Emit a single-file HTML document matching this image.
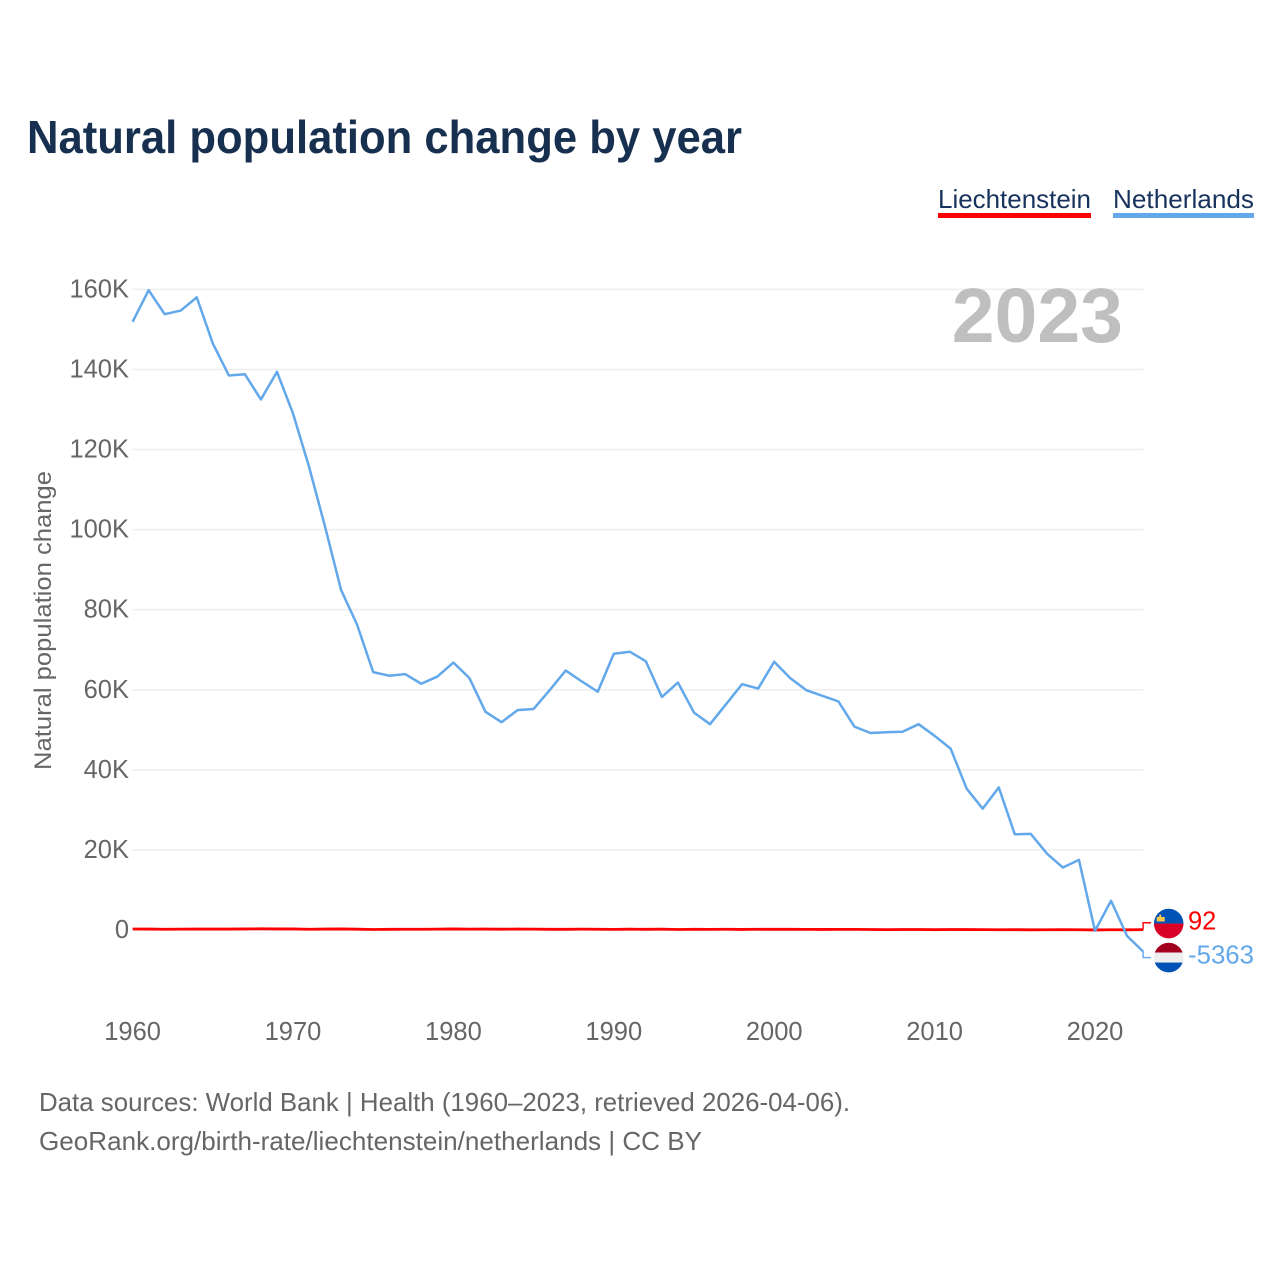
<!DOCTYPE html>
<html lang="en">
<head>
<meta charset="utf-8">
<title>Natural population change by year</title>
<style>
html,body{margin:0;padding:0;background:#fff;}
svg{display:block;font-family:"Liberation Sans",sans-serif;}
</style>
</head>
<body>
<svg id="chart" xmlns="http://www.w3.org/2000/svg" width="1280" height="1280" viewBox="0 0 1280 1280">
  <rect x="0" y="0" width="1280" height="1280" fill="#ffffff"/>
  <text x="27" y="153" font-size="46" font-weight="700" fill="#17304f" textLength="715" lengthAdjust="spacingAndGlyphs">Natural population change by year</text>
  <g>
    <text x="938" y="208" font-size="26" fill="#17325c" textLength="153" lengthAdjust="spacingAndGlyphs">Liechtenstein</text>
    <rect x="938" y="213" width="153" height="5" fill="#ff0000"/>
  </g>
  <g>
    <text x="1113" y="208" font-size="26" fill="#17325c" textLength="141" lengthAdjust="spacingAndGlyphs">Netherlands</text>
    <rect x="1113" y="213" width="141" height="5" fill="#62a8ea"/>
  </g>
  <text transform="translate(51,770) rotate(-90)" font-size="24" fill="#666666" textLength="299" lengthAdjust="spacingAndGlyphs">Natural population change</text>
  <g id="grid"></g>
  <g id="yticks"></g>
  <g id="xticks"></g>
  <text id="year" x="1123" y="342" text-anchor="end" font-size="77" font-weight="700" fill="#bfbfbf">2023</text>
  <g id="series"></g>
  <g id="endmarks"></g>
  <text x="39" y="1111" font-size="26" fill="#666666" textLength="811" lengthAdjust="spacingAndGlyphs">Data sources: World Bank | Health (1960–2023, retrieved 2026-04-06).</text>
  <text x="39" y="1150" font-size="26" fill="#666666" textLength="663" lengthAdjust="spacingAndGlyphs">GeoRank.org/birth-rate/liechtenstein/netherlands | CC BY</text>
  <defs>
    <clipPath id="flag-clip"><circle cx="0" cy="0" r="14.8"/></clipPath>
  </defs>
</svg>
<script>
const startYear = 1960;
const xTickYears = [1960, 1970, 1980, 1990, 2000, 2010, 2020];
const yTickValues = [0, 20000, 40000, 60000, 80000, 100000, 120000, 140000, 160000];
const yTickLabels = ["0", "20K", "40K", "60K", "80K", "100K", "120K", "140K", "160K"];
const netherlandsValues = [
  151900, 159800, 153800, 154700, 158000, 146500, 138500, 138800, 132500, 139400,
  129000, 115700, 100700, 84900, 76200, 64400, 63500, 63900, 61500, 63300,
  66800, 62900, 54500, 51900, 54900, 55200, 59900, 64800, 62100, 59500,
  69000, 69500, 67100, 58200, 61800, 54300, 51400, 56400, 61400, 60300,
  67000, 62900, 59900, 58500, 57100, 50800, 49200, 49400, 49500, 51400,
  48500, 45300, 35300, 30300, 35600, 23900, 24000, 19100, 15600, 17500,
  -200, 7300, -1500, -5363
];
const liechtensteinValues = [
  250, 230, 180, 220, 240, 230, 230, 260, 300, 270,
  260, 190, 230, 260, 200, 120, 170, 190, 180, 220,
  260, 210, 240, 200, 250, 210, 170, 170, 220, 190,
  150, 200, 170, 210, 130, 170, 150, 180, 140, 180,
  170, 170, 160, 140, 160, 160, 120, 90, 130, 130,
  80, 120, 110, 90, 60, 80, 50, 60, 80, 70,
  20, 60, 50, 92
];

const NS = "http://www.w3.org/2000/svg";
function xScale(year) { return 132.6 + (year - 1960) * 16.04; }
function yScale(value) { return 930 - value * 0.004004; }
function make(tag, attrs, text) {
  const el = document.createElementNS(NS, tag);
  for (const k in attrs) el.setAttribute(k, attrs[k]);
  if (text !== undefined) el.textContent = text;
  return el;
}
function linePath(values) {
  return values.map(function (v, i) {
    return (i ? "L" : "M") + xScale(startYear + i).toFixed(2) + " " + yScale(v).toFixed(2);
  }).join("");
}
const lastYear = startYear + netherlandsValues.length - 1;
const gridG = document.getElementById("grid");
const yG = document.getElementById("yticks");
const xG = document.getElementById("xticks");
const seriesG = document.getElementById("series");
const endG = document.getElementById("endmarks");

yTickValues.forEach(function (v, i) {
  const line = make("line", { x1: xScale(startYear), x2: xScale(lastYear), y1: yScale(v), y2: yScale(v), stroke: "#eeeeee", "stroke-width": 1.5 });
  
  
  gridG.appendChild(line);
  const label = make("text", { x: 129, y: yScale(v) + 8, "text-anchor": "end", "font-size": 25.5, fill: "#666666" }, yTickLabels[i]);
  
  
  yG.appendChild(label);
});

xTickYears.forEach(function (yr) {
  const label = make("text", { x: xScale(yr), y: 1040, "text-anchor": "middle", "font-size": 25.5, fill: "#666666" }, String(yr));
  
  
  xG.appendChild(label);
});

const redLine = make("path", { d: linePath(liechtensteinValues), fill: "none", stroke: "#ff0000", "stroke-width": 2.8, "stroke-linejoin": "round" });


seriesG.appendChild(redLine);
const blueLine = make("path", { d: linePath(netherlandsValues), fill: "none", stroke: "#62a8ea", "stroke-width": 2.5, "stroke-linejoin": "round" });


seriesG.appendChild(blueLine);

const lastRed = liechtensteinValues[liechtensteinValues.length - 1];
const lastBlue = netherlandsValues[netherlandsValues.length - 1];
const midY = (yScale(lastRed) + yScale(lastBlue)) / 2;
const redY = midY - 17;
const blueY = midY + 17;
const endX = xScale(lastYear);

const redLeader = make("path", { d: "M" + endX + " " + yScale(lastRed) + "V" + (redY - 0.8) + "H1151", fill: "none", stroke: "#ff0000", "stroke-width": 1.4 });


endG.appendChild(redLeader);
const blueLeader = make("path", { d: "M" + endX + " " + yScale(lastBlue) + "V" + blueY + "H1151", fill: "none", stroke: "#62a8ea", "stroke-width": 1.4 });


endG.appendChild(blueLeader);

const flagLi = make("g", { transform: "translate(1168.7," + redY + ")", "clip-path": "url(#flag-clip)" });


flagLi.appendChild(make("rect", { x: -15, y: -15, width: 30, height: 15, fill: "#0052b4" }));
flagLi.appendChild(make("rect", { x: -15, y: 0, width: 30, height: 15, fill: "#d80027" }));
flagLi.appendChild(make("path", { d: "M-12-2 L-12-6.5 L-9.5-6.5 L-9.5-8 L-8.5-9.5 L-7.5-8 L-7.5-6.5 L-4-6.5 L-4-2 Z", fill: "#ffc84a" }));
endG.appendChild(flagLi);

const flagNl = make("g", { transform: "translate(1168.7," + blueY + ")", "clip-path": "url(#flag-clip)" });


flagNl.appendChild(make("rect", { x: -15, y: -15, width: 30, height: 10, fill: "#a2001d" }));
flagNl.appendChild(make("rect", { x: -15, y: -5, width: 30, height: 10, fill: "#eeeeee" }));
flagNl.appendChild(make("rect", { x: -15, y: 5, width: 30, height: 10, fill: "#0052b4" }));
endG.appendChild(flagNl);

const redLabel = make("text", { x: 1188, y: redY + 6, "font-size": 25.5, fill: "#ff0000" }, String(lastRed));


endG.appendChild(redLabel);
const blueLabel = make("text", { x: 1188, y: blueY + 6, "font-size": 25.5, fill: "#62a8ea", textLength: 66, lengthAdjust: "spacingAndGlyphs" }, String(lastBlue));


endG.appendChild(blueLabel);
</script>
</body>
</html>
